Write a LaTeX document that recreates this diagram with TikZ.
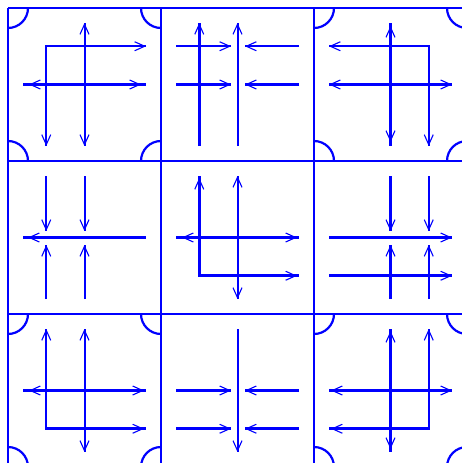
\documentclass[tikz,border=0pt]{standalone}
\usetikzlibrary{arrows.meta,decorations.markings}
\newcommand{\cornerarcs}{%
  \draw[arcline] (20,0) arc[start angle=0,end angle=90,radius=20];
  \draw[arcline] (153,20) arc[start angle=90,end angle=180,radius=20];
  \draw[arcline] (0,133) arc[start angle=270,end angle=360,radius=20];
  \draw[arcline] (133,153) arc[start angle=180,end angle=270,radius=20];
}
\begin{document}
\begin{tikzpicture}[x=1pt,y=-1pt,
  myv/.tip={Straight Barb[length=10pt,width=9pt,line width=1.1pt]},
  gridline/.style={blue,line width=2pt},
  arcline/.style={blue,line width=2.2pt},
  thk/.style={blue,line width=3.3pt},
  thn/.style={blue,line width=2pt},
  aS/.style={postaction={decorate,decoration={markings,mark=at position #1 with {\arrowreversed{myv}}}}},
  aS/.default=0.01pt,
  aE/.style={postaction={decorate,decoration={markings,mark=at position #1 with {\arrow{myv}}}}},
  aE/.default=-0.01pt]
\useasboundingbox (0,0) rectangle (462,463);
% grid
\foreach \k in {8,161,314,467}{
  \draw[gridline] (\k,8) -- (\k,467);
  \draw[gridline] (8,\k) -- (467,\k);
}
% cell 1
\begin{scope}[shift={(8,8)}]
  \cornerarcs
  \draw[thn,aS,aE] (138,38.25) -- (38.25,38.25) -- (38.25,138);
  \draw[thn,aS,aE] (76.5,15) -- (76.5,138);
  \draw[thk,aS=6pt,aE=-5pt] (15,76.5) -- (138,76.5);
\end{scope}
% cell 2
\begin{scope}[shift={(161,8)}]
  \draw[thk,aE] (38.25,138) -- (38.25,15);
  \draw[thn,aE] (76.5,138) -- (76.5,15);
  \draw[thn,aE] (15,38.25) -- (70,38.25);
  \draw[thn,aE] (138,38.25) -- (84,38.25);
  \draw[thk,aE] (15,76.5) -- (70,76.5);
  \draw[thk,aE] (138,76.5) -- (84,76.5);
\end{scope}
% cell 3
\begin{scope}[shift={(314,8)}]
  \cornerarcs
  \draw[thn,aS,aE] (15,38.25) -- (114.75,38.25) -- (114.75,138);
  \draw[thk,aS=3pt,aE=-4pt] (76.5,15) -- (76.5,138);
  \draw[thk,aS,aE] (15,76.5) -- (138,76.5);
\end{scope}
% cell 4
\begin{scope}[shift={(8,161)}]
  \draw[thn,aE] (38.25,15) -- (38.25,70);
  \draw[thn,aE] (76.5,15) -- (76.5,70);
  \draw[thn,aE] (38.25,138) -- (38.25,84);
  \draw[thn,aE] (76.5,138) -- (76.5,84);
  \draw[thk,aS=5pt] (15,76.5) -- (138,76.5);
\end{scope}
% cell 5
\begin{scope}[shift={(161,161)}]
  \draw[thk,aS=2pt,aE=-2pt] (38.25,15) -- (38.25,114.75) -- (138,114.75);
  \draw[thn,aS,aE] (76.5,15) -- (76.5,138);
  \draw[thk,aS=6pt,aE=-2pt] (15,76.5) -- (138,76.5);
\end{scope}
% cell 6
\begin{scope}[shift={(314,161)}]
  \draw[thk,aE] (76.5,15) -- (76.5,70);
  \draw[thk,aE] (76.5,138) -- (76.5,84);
  \draw[thn,aE] (114.75,15) -- (114.75,70);
  \draw[thn,aE] (114.75,138) -- (114.75,84);
  \draw[thk,aE] (15,76.5) -- (138,76.5);
  \draw[thk,aE] (15,114.75) -- (138,114.75);
\end{scope}
% cell 7
\begin{scope}[shift={(8,314)}]
  \cornerarcs
  \draw[thn,aS] (38.25,15) -- (38.25,114.75);
  \draw[thk,aE=-2pt] (37.25,114.75) -- (138,114.75);
  \draw[thn,aS,aE] (76.5,15) -- (76.5,138);
  \draw[thk,aS=6pt,aE=-2pt] (15,76.5) -- (138,76.5);
\end{scope}
% cell 8
\begin{scope}[shift={(161,314)}]
  \draw[thn,aE] (76.5,15) -- (76.5,138);
  \draw[thk,aE] (15,76.5) -- (70,76.5);
  \draw[thk,aE] (138,76.5) -- (84,76.5);
  \draw[thk,aE] (15,114.75) -- (70,114.75);
  \draw[thk,aE] (138,114.75) -- (84,114.75);
\end{scope}
% cell 9
\begin{scope}[shift={(314,314)}]
  \cornerarcs
  \draw[thn,aE] (114.75,114.75) -- (114.75,15);
  \draw[thk,aS=2pt] (15,114.75) -- (115.75,114.75);
  \draw[thk,aS=2pt,aE=-3pt] (76.5,15) -- (76.5,138);
  \draw[thk,aS=2pt,aE] (15,76.5) -- (138,76.5);
\end{scope}
\end{tikzpicture}
\end{document}
